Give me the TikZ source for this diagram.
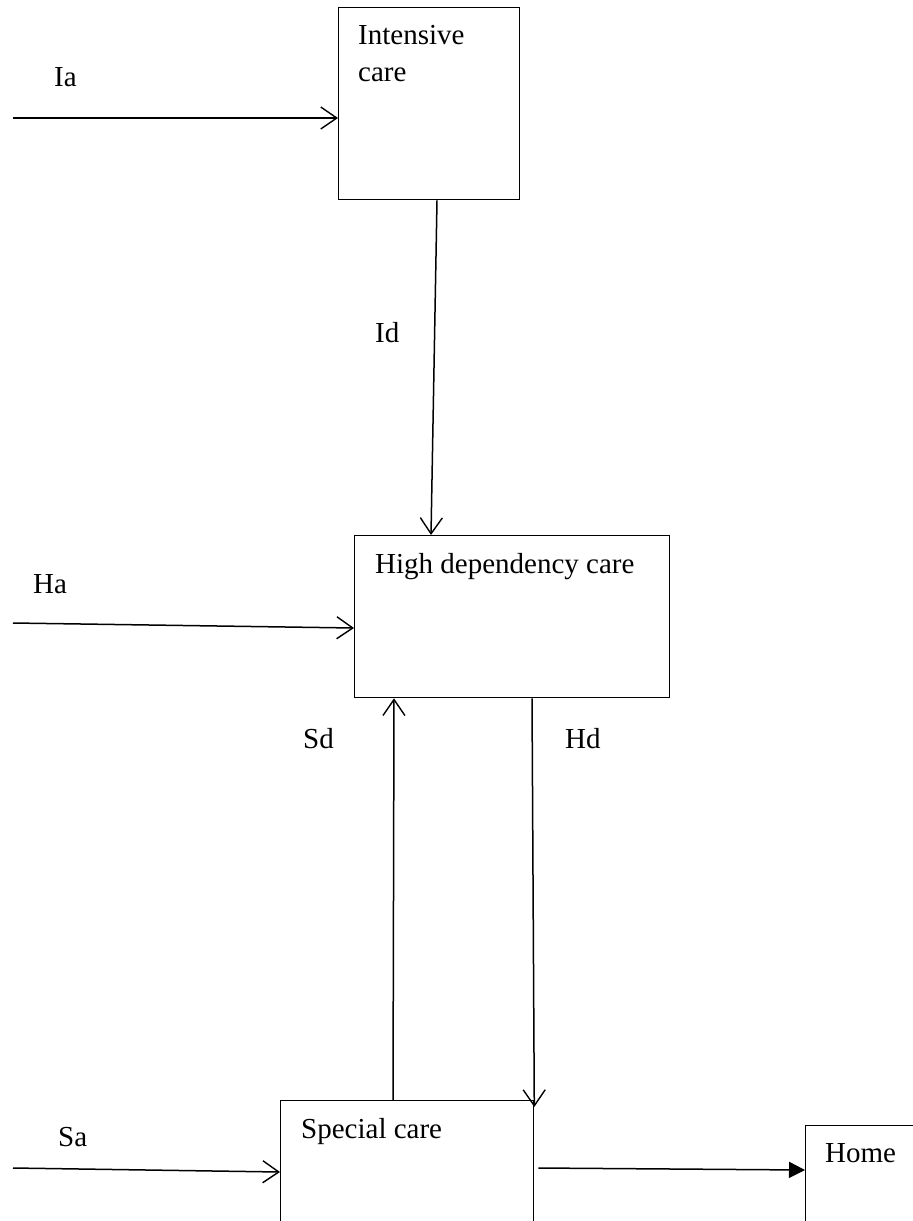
\documentclass[tikz,border=0pt]{standalone}
\usepackage{fontspec}
\setmainfont{Liberation Serif}
\usetikzlibrary{arrows.meta,calc}
\tikzset{
  box/.style={draw, line width=1.3pt, rectangle, inner sep=0pt, anchor=north west},
  lbl/.style={inner sep=0pt, anchor=base west, font=\fontsize{29}{37}\selectfont},
  arr/.style={line width=1.5pt, -{Straight Barb[length=16pt,width=22pt,line width=1.4pt]}},
  farr/.style={line width=1.5pt, -{Triangle[length=16pt,width=16pt]}}
}
\begin{document}
\begin{tikzpicture}[x=1pt,y=-1pt]
\clip (0,0) rectangle (913,1221);
\fill[white] (0,0) rectangle (913,1221);
% boxes
\node[box, minimum width=181pt, minimum height=192pt] (ic) at (338,7) {};
\node[box, minimum width=315pt, minimum height=162pt] (hd) at (354,535) {};
\node[box, minimum width=253pt, minimum height=150pt] (sc) at (280,1100) {};
\node[box, minimum width=140pt, minimum height=130pt] (home) at (805,1125) {};
% box texts
\node[lbl, anchor=north west, align=left] (ictext) at (358,25) {Intensive\\care};
\node[lbl] (hdtext) at (375,573) {High dependency care};
\node[lbl] (sctext) at (301,1138) {Special care};
\node[lbl] (hometext) at (825,1162) {Home};
% connector labels
\node[lbl] (ialbl) at (54,86) {Ia};
\node[lbl] (idlbl) at (375,342) {Id};
\node[lbl] (halbl) at (33,593) {Ha};
\node[lbl] (sdlbl) at (303,748) {Sd};
\node[lbl] (hdlbl) at (565,748) {Hd};
\node[lbl] (salbl) at (58,1146) {Sa};
% free ends
\coordinate (ia0) at (13,118);
\coordinate (ha0) at (13,623);
\coordinate (sa0) at (13,1168);
% connectors
\draw[arr] (ia0) -- (ia0 -| ic.west);
\draw[arr] ($(ic.south west)+(99,0)$) -- ($(hd.north west)+(77,0)$);
\draw[arr] (ha0) -- ($(hd.north west)+(0,93)$);
\draw[arr] ($(sc.north west)+(113,0)$) -- ($(hd.south west)+(40,0)$);
\draw[arr] ($(hd.south west)+(178,0)$) -- ($(sc.north east)+(0,7)$);
\draw[arr] (sa0) -- ($(sc.north west)+(0,72)$);
\draw[farr] ($(sc.north east)+(4,68)$) -- ($(home.north west)+(0,45)$);
\end{tikzpicture}
\end{document}
